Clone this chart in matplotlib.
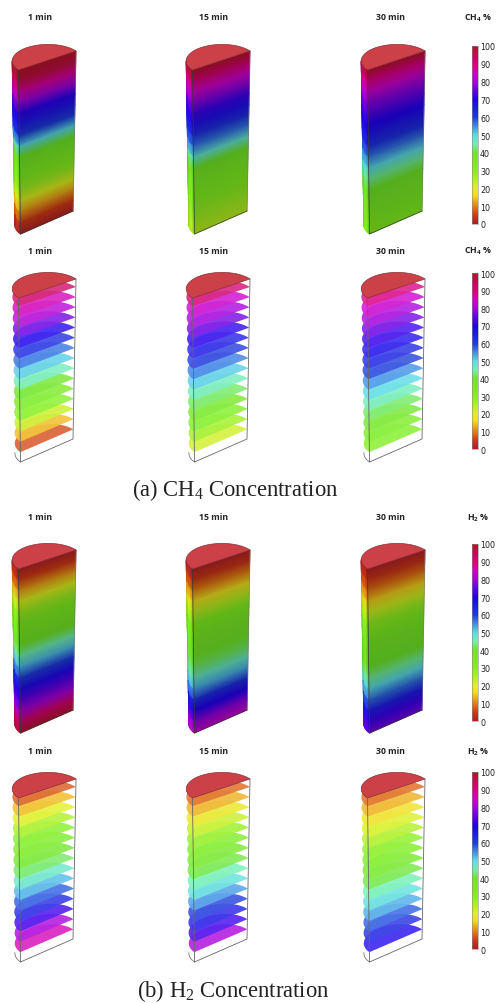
import numpy as np
import matplotlib
matplotlib.use("Agg")
import matplotlib.pyplot as plt
from matplotlib.colors import LinearSegmentedColormap, Normalize
from matplotlib.cm import ScalarMappable

W, H = 497, 1004

# ---------------- Values ----------------
# solids: concentration (%) from top of the cylinder to the bottom
CH4_SOLID = {
    "1 min":  [100, 97, 88, 79, 71, 66, 60, 50, 40, 34, 30, 27, 20, 12, 5, 1],
    "15 min": [100, 92, 85, 78, 72, 67, 62, 56, 48, 40, 35, 32, 30, 28, 26, 24],
    "30 min": [100, 90, 84, 78, 74, 70, 66, 62, 56, 50, 44, 40, 37, 34, 32, 30],
}
H2_SOLID = {
    "1 min":  [1, 5, 12, 20, 27, 32, 35, 38, 45, 52, 60, 68, 74, 80, 92, 99],
    "15 min": [1, 4, 10, 17, 24, 30, 34, 37, 39, 42, 47, 53, 62, 70, 78, 84],
    "30 min": [1, 4, 9, 15, 22, 28, 32, 36, 38, 40, 44, 50, 57, 65, 72, 76],
}
# slices: one value per horizontal slice, top to bottom
CH4_SLICES = {
    "1 min":  [93, 86, 82, 76, 70, 63, 57, 51, 46, 40, 35, 30, 23, 14, 6],
    "15 min": [92, 84, 80, 76, 71, 66, 61, 56, 51, 46, 42, 37, 32, 27, 22],
    "30 min": [90, 84, 80, 76, 72, 68, 64, 60, 55, 50, 46, 42, 38, 34, 31],
}
H2_SLICES = {
    "1 min":  [7, 14, 20, 26, 30, 34, 38, 42, 47, 52, 58, 64, 72, 80, 86],
    "15 min": [8, 13, 18, 23, 28, 33, 37, 41, 45, 49, 54, 60, 66, 72, 80],
    "30 min": [8, 13, 17, 21, 25, 29, 33, 37, 41, 45, 49, 53, 58, 63, 69],
}
TIMES = ["1 min", "15 min", "30 min"]
CBAR_TICKS = [0, 10, 20, 30, 40, 50, 60, 70, 80, 90, 100]

# colour scale of the legend bars
SCALE_POS = [0, 5, 10, 16, 20, 30, 40, 45, 50, 55, 60, 70, 75, 80, 85, 90, 100]
SCALE_COL = ["#ac1e28", "#d23c14", "#e68214", "#f5dc1e", "#e0f01e", "#80f01e", "#6ee628",
             "#70f0b0", "#5adce6", "#3c8ce6", "#1e3cdc", "#1e00f0", "#6400e6", "#aa00dc",
             "#d200c8", "#dc0082", "#b41428"]
cmap = LinearSegmentedColormap.from_list("conc", [(p / 100, c) for p, c in zip(SCALE_POS, SCALE_COL)])
norm = Normalize(0, 100)

plt.rcParams["mathtext.default"] = "regular"
fig = plt.figure(figsize=(W / 100, H / 100), dpi=100)
ax = fig.add_axes([0, 0, 1, 1])
ax.set_xlim(0, W)
ax.set_ylim(H, 0)
ax.axis("off")

# ---------------- Helpers ----------------
def arc(a, b, d, t):
    """Half-disc outline with chord a-b, bulging along d."""
    c = (a + b) / 2
    return c + np.outer(np.cos(t), a - c) + np.outer(np.sin(t), d)

def frame(x0, y0):
    # front corner and back corner at top and bottom of the cylinder
    a_top = np.array([x0 + 6.5, y0 + 25.0])
    b_top = np.array([x0 + 64.0, y0 + 6.0])
    a_bot = np.array([x0 + 8.5, y0 + 189.0])
    b_bot = np.array([x0 + 61.0, y0 + 166.0])
    d_top = np.array([-20.0, -13.0])
    d_bot = np.array([-18.0, -12.0])
    return a_top, b_top, a_bot, b_bot, d_top, d_bot

def draw_cap(f):
    a_top, b_top, _, _, d_top, _ = f
    t = np.linspace(0, np.pi, 60)
    p = arc(a_top, b_top, d_top, t)
    ax.fill(p[:, 0], p[:, 1], color="#cc4048", ec="#8a3036", lw=0.5, zorder=8)

def draw_solid(x0, y0, vals):
    f = frame(x0, y0)
    a_top, b_top, a_bot, b_bot, d_top, d_bot = f
    vals = np.array(vals, float)
    h = np.linspace(0, 1, len(vals))[:, None]

    # curved side seen at the left
    t = np.linspace(0, np.radians(36), 8)
    top = arc(a_top, b_top, d_top, t)
    bot = arc(a_bot, b_bot, d_bot, t)
    X = top[:, 0][None, :] + h * (bot[:, 0] - top[:, 0])[None, :]
    Y = top[:, 1][None, :] + h * (bot[:, 1] - top[:, 1])[None, :]
    side = np.array([0.7, 0.9, 1.0, 1.0, 1.0, 1.0, 0.95, 0.85])
    rgb = cmap(norm(vals))[:, None, :3] * side[None, :, None]
    ax.pcolormesh(X, Y, rgb, shading="gouraud", zorder=2)

    # flat cut face
    u = np.linspace(0, 1, 2)
    fa = a_top + h * (a_bot - a_top)
    fb = b_top + h * (b_bot - b_top)
    X = fa[:, 0:1] + u[None, :] * (fb - fa)[:, 0:1]
    Y = fa[:, 1:2] + u[None, :] * (fb - fa)[:, 1:2]
    rgb = np.repeat(cmap(norm(vals))[:, None, :3] * 0.76, 2, axis=1)
    ax.pcolormesh(X, Y, rgb, shading="gouraud", zorder=3)

    ax.plot([a_top[0], a_bot[0], b_bot[0]], [a_top[1], a_bot[1], b_bot[1]],
            color="#3a3a3a", lw=0.5, zorder=4)
    ax.plot([b_top[0], b_bot[0]], [b_top[1], b_bot[1]], color="#777777", lw=0.4, zorder=4)
    draw_cap(f)

def draw_slices(x0, y0, vals):
    f = frame(x0, y0)
    a_top, b_top, a_bot, b_bot, d_top, d_bot = f
    n = len(vals)
    t = np.linspace(0, np.pi, 50)
    # top slice sits just under the cap, the last one a little above the base
    fr = np.linspace(0.05, 0.94, n)
    for i in range(n - 1, -1, -1):
        a = a_top + fr[i] * (a_bot - a_top)
        b = b_top + fr[i] * (b_bot - b_top)
        d = d_top + fr[i] * (d_bot - d_top)
        p = arc(a, b, d, t)
        col = np.array(cmap(norm(vals[i]))[:3]) * 0.85 + 0.15
        ax.fill(p[:, 0], p[:, 1], color=col, alpha=0.92, lw=0, zorder=3)

    # wire outline
    base = arc(a_bot, b_bot, d_bot, np.linspace(0, np.radians(36), 12))
    ax.plot(base[:, 0], base[:, 1], color="#777777", lw=0.6, zorder=4)
    ax.plot([a_top[0], a_bot[0], b_bot[0], b_top[0]],
            [a_top[1], a_bot[1], b_bot[1], b_top[1]], color="#666666", lw=0.6, zorder=5)
    draw_cap(f)

def add_cbar(y_top, y_bot):
    cax = fig.add_axes([472 / W, 1 - y_bot / H, 6 / W, (y_bot - y_top) / H])
    cb = fig.colorbar(ScalarMappable(norm=norm, cmap=cmap), cax=cax, ticks=CBAR_TICKS)
    cb.ax.tick_params(length=0, pad=1.5, labelsize=5.8, labelcolor="#222222")
    cb.outline.set_linewidth(0.4)
    cb.outline.set_edgecolor("#888888")

def titles(y, gas):
    for x, name in zip([40, 214, 390], TIMES):
        ax.text(x, y, name, ha="center", va="center", family="Open Sans", weight="bold", fontsize=6.3, color="#222222")
    ax.text(478, y, gas, ha="center", va="center", family="Open Sans", weight="bold", fontsize=6.3, color="#222222")

# ---------------- Panels ----------------
COL_X = [12, 186, 361]
for cx, name in zip(COL_X, TIMES):
    draw_solid(cx, 46, CH4_SOLID[name])
    draw_slices(cx, 274, CH4_SLICES[name])
    draw_solid(cx, 545, H2_SOLID[name])
    draw_slices(cx, 774, H2_SLICES[name])

titles(18, "CH$_4$ %")
titles(251, "CH$_4$ %")
titles(518, "H$_2$ %")
titles(752, "H$_2$ %")

add_cbar(47, 225)
add_cbar(274, 450)
add_cbar(545, 722)
add_cbar(773, 950)

ax.text(235, 490, "(a) CH$_4$ Concentration", ha="center", va="center", family="Liberation Serif", fontsize=16.3, color="#222222")
ax.text(233, 991, "(b) H$_2$ Concentration", ha="center", va="center", family="Liberation Serif", fontsize=16.3, color="#222222")

fig.savefig("out.png", dpi=100)
